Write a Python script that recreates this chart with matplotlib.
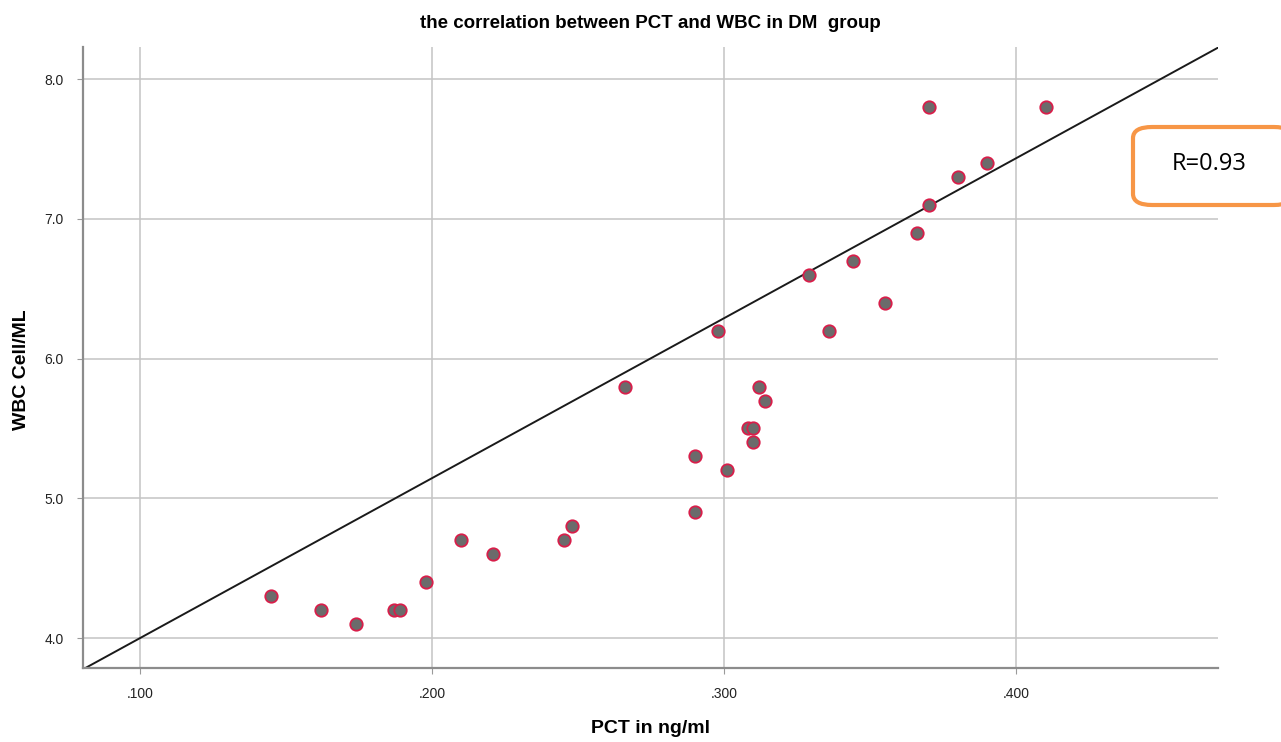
import matplotlib
matplotlib.use("Agg")
import matplotlib.pyplot as plt
from matplotlib.patches import FancyBboxPatch

# PCT (ng/ml) vs WBC (cell/ML), DM group
pct = [0.145, 0.162, 0.174, 0.187, 0.189, 0.198, 0.210, 0.221, 0.245, 0.248,
       0.266, 0.290, 0.290, 0.298, 0.301, 0.308, 0.310, 0.310, 0.312, 0.314,
       0.329, 0.336, 0.344, 0.355, 0.366, 0.370, 0.370, 0.380, 0.390, 0.410]
wbc = [4.3, 4.2, 4.1, 4.2, 4.2, 4.4, 4.7, 4.6, 4.7, 4.8,
       5.8, 4.9, 5.3, 6.2, 5.2, 5.5, 5.5, 5.4, 5.8, 5.7,
       6.6, 6.2, 6.7, 6.4, 6.9, 7.8, 7.1, 7.3, 7.4, 7.8]

# reference line y = a + b*x
line_intercept = 2.855
line_slope = 11.45

x_ticks = [0.1, 0.2, 0.3, 0.4]
x_ticklabels = [".100", ".200", ".300", ".400"]
y_ticks = [4.0, 5.0, 6.0, 7.0, 8.0]
y_ticklabels = ["4.0", "5.0", "6.0", "7.0", "8.0"]

plt.rcParams["font.family"] = ["Liberation Sans", "DejaVu Sans"]

fig = plt.figure(figsize=(12.81, 7.42), dpi=100)
ax = fig.add_axes([0.0648, 0.0997, 0.886, 0.837])

ax.set_xlim(0.0805, 0.469)
ax.set_ylim(3.786, 8.23)

ax.grid(True, color="#c4c4c4", linewidth=1.1)
ax.set_axisbelow(True)

ax.scatter(pct, wbc, s=80, facecolor="#6b6b6b", edgecolor="#d81e4a",
           linewidth=1.3, zorder=3)

ax.axline((0, line_intercept), slope=line_slope, color="#1a1a1a",
          linewidth=1.4, zorder=2)

ax.set_xticks(x_ticks)
ax.set_xticklabels(x_ticklabels)
ax.set_yticks(y_ticks)
ax.set_yticklabels(y_ticklabels)
ax.tick_params(axis="both", length=4, color="#9a9a9a", labelsize=10,
               labelcolor="#222222", pad=10)

for side in ("top", "right"):
    ax.spines[side].set_visible(False)
for side in ("left", "bottom"):
    ax.spines[side].set_color("#8c8c8c")
    ax.spines[side].set_linewidth(1.6)

ax.set_title("the correlation between PCT and WBC in DM  group",
             fontsize=13.5, fontweight="bold", pad=14)
ax.set_xlabel("PCT in ng/ml", fontsize=14, fontweight="bold", va="center")
ax.set_ylabel("WBC Cell/ML", fontsize=14, fontweight="bold", va="center")
ax.xaxis.set_label_coords(0.5, -0.097)
ax.yaxis.set_label_coords(-0.054, 0.48)

# correlation annotation box
box = FancyBboxPatch((1133 / 1281, 1 - 205 / 742), 160 / 1281, 78 / 742,
                     boxstyle="round,pad=0,rounding_size=0.015",
                     transform=fig.transFigure, facecolor="white",
                     edgecolor="#f79646", linewidth=3, clip_on=False)
fig.patches.append(box)
fig.text(1209 / 1281, 1 - 164 / 742, "R=0.93", fontsize=17,
         family=["Open Sans", "DejaVu Sans"], ha="center", va="center")

fig.savefig("out.png", dpi=100)
